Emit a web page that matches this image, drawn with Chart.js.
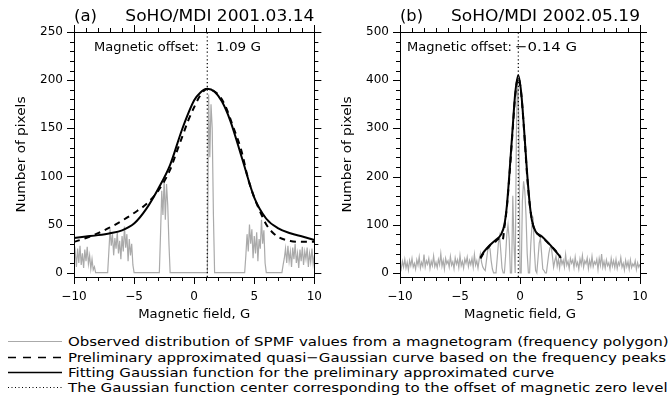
<!DOCTYPE html>
<html>
<head>
<meta charset="utf-8">
<script src="https://cdn.jsdelivr.net/npm/chart.js@4.4.1/dist/chart.umd.min.js"></script>
<style>
  body { margin: 0; background: #fff; }
  #wrap { position: relative; width: 670px; height: 401px; overflow: hidden; font-family: "DejaVu Sans", sans-serif; color: #000; }
  canvas.panel { position: absolute; top: 0; }
  #cA { left: 0; }
  #cB { left: 335px; }
  .leg { position: absolute; left: 0; width: 670px; height: 15px; font-size: 13px; line-height: 15px; white-space: nowrap; }
  .leg svg { position: absolute; left: 8px; top: 0; }
  .leg span { position: absolute; left: 68px; top: 0; transform-origin: 0 50%; }
</style>
</head>
<body>
<div id="wrap">
  <canvas id="cA" class="panel" width="335" height="330"></canvas>
  <canvas id="cB" class="panel" width="335" height="330"></canvas>

  <div class="leg" style="top:334px">
    <svg width="56" height="15"><line x1="0" y1="7.5" x2="54" y2="7.5" stroke="#aaaaaa" stroke-width="1.2"/></svg>
    <span>Observed distribution of SPMF values from a magnetogram (frequency polygon)</span>
  </div>
  <div class="leg" style="top:350px">
    <svg width="56" height="15"><line x1="0" y1="7.5" x2="54" y2="7.5" stroke="#000" stroke-width="1.4" stroke-dasharray="8,7"/></svg>
    <span>Preliminary approximated quasi−Gaussian curve based on the frequency peaks</span>
  </div>
  <div class="leg" style="top:365px">
    <svg width="56" height="15"><line x1="0" y1="7.5" x2="54" y2="7.5" stroke="#000" stroke-width="1.4"/></svg>
    <span>Fitting Gaussian function for the preliminary approximated curve</span>
  </div>
  <div class="leg" style="top:380px">
    <svg width="56" height="15"><line x1="0" y1="7.5" x2="54" y2="7.5" stroke="#000" stroke-width="1.2" stroke-dasharray="1,2.5"/></svg>
    <span id="legLong">The Gaussian function center corresponding to the offset of magnetic zero level</span>
  </div>
</div>

<script>
const xTicks = [-10, -5, 0, 5, 10];

// panel (a) - SoHO/MDI 2001.03.14
const offsetA = 1.09;
const yTicksA = [0, 50, 100, 150, 200, 250];
const obsAStart = [-10.0, -7.2, -2.9, 1.1, 4.2, 7.3];   // start of each run, step 0.1 G
const obsAVals = [
  [12, 22, 6, 25, 10, 28, 8, 20, 5, 24, 12, 27, 9, 18, 4, 14, 3, 6, 0],
  [0, 22, 45, 28, 40, 18, 36, 25, 42, 20, 33, 14, 38, 22, 48, 26, 40, 12, 35, 18, 30, 8, 0],
  [0, 40, 85, 60, 97, 55, 92, 70, 30, 0],
  [0, 185, 120, 175, 150, 60, 0],
  [0, 18, 40, 22, 50, 30, 45, 15, 38, 20, 42, 12, 35, 25, 55, 30, 44, 10, 0],
  [0, 8, 15, 25, 10, 28, 12, 22, 6, 26, 14, 30, 10, 20, 5, 24, 12, 27, 8, 22, 14, 26, 6, 20, 11, 25, 9, 18]
];
const dashAx = [-10, -9, -8, -7, -6, -5, -4, -3, -2, -1.5, -1, -0.5, 0, 0.5, 1.1, 1.6, 2.2, 2.7, 3.2, 3.9, 4.5, 5, 5.5, 6, 6.5, 7, 8, 9, 10];
const dashAy = [32, 36, 41, 47, 54, 62, 71, 85, 107, 124, 141, 158, 172, 184, 191, 189, 182, 170, 153, 128, 97, 78, 63, 50, 42, 37, 33, 32, 32];
const fitAx = [-10, -9, -8, -7, -6, -5, -4, -3, -2, -1, 0, 0.5, 1.09, 1.7, 2.3, 3, 4, 5, 6, 7, 8, 9, 10];
const fitAy = [36, 37.5, 39, 41, 44, 51, 66, 87, 112, 149, 179, 187, 191, 188, 178, 158, 118, 78, 56, 46, 41, 37.5, 34];

// panel (b) - SoHO/MDI 2002.05.19
const offsetB = -0.14;
const yTicksB = [0, 100, 200, 300, 400, 500];
const obsBStart = -10.0;   // step 0.1 G
const obsBVals = [
  18, 8, 24, 12, 28, 10, 22, 6, 26, 15,
  30, 12, 20, 8, 27, 16, 33, 10, 22, 14,
  38, 12, 25, 18, 30, 9, 24, 15, 35, 13,
  22, 11, 28, 17, 40, 14, 26, 8, 30, 19,
  25, 12, 34, 16, 23, 9, 31, 18, 27, 11,
  36, 15, 24, 10, 29, 20, 33, 13, 26, 17,
  30, 12, 38, 16, 25, 10, 28, 40, 22, 12,
  8, 5, 25, 45, 55, 50, 25, 8, 0, 0,
  0, 30, 62, 76, 45, 10, 0, 0, 35, 80,
  100, 70, 0, 0, 160, 60, 0, 290, 410, 320,
  0, 0, 150, 190, 170, 120, 40, 0, 0, 60,
  100, 110, 45, 5, 0, 30, 62, 72, 40, 8,
  5, 0, 0, 20, 40, 52, 55, 35, 12, 25,
  35, 14, 28, 10, 32, 18, 26, 12, 38, 16,
  24, 9, 30, 20, 27, 11, 33, 15, 22, 8,
  29, 17, 36, 12, 25, 19, 31, 9, 26, 14,
  34, 13, 23, 18, 28, 7, 30, 16, 39, 12,
  24, 10, 27, 15, 21, 8, 30, 14, 25, 11,
  28, 9, 22, 16, 32, 12, 20, 6, 26, 13,
  23, 8, 27, 11, 19, 14, 25, 7, 21, 12,
  18
];
const dashBx = [-3.3, -3, -2.5, -2, -1.7, -1.45, -1.3, -1.1, -0.9, -0.6, -0.4, -0.14, 0.1, 0.3, 0.6, 0.8, 1.0, 1.2, 1.5, 2.0, 2.5, 3.0, 3.4];
const dashBy = [30, 42, 57, 66, 72, 68, 95, 135, 195, 300, 368, 405, 372, 310, 200, 145, 110, 90, 80, 70, 58, 45, 31];
const fitBx = [-3.3, -3, -2.5, -2, -1.6, -1.3, -1.1, -0.9, -0.6, -0.4, -0.14, 0.1, 0.3, 0.6, 0.83, 1.0, 1.3, 1.8, 2.3, 2.8, 3.35];
const fitBy = [32, 44, 58, 69, 79, 100, 138, 200, 305, 372, 410, 374, 312, 205, 138, 108, 86, 76, 64, 50, 33];

const FONT = '"DejaVu Sans", sans-serif';

function zip(xs, ys) {
  return xs.map((x, i) => ({ x: x, y: ys[i] }));
}

function runs(starts, vals) {
  const pts = [];
  starts.forEach((s, k) => {
    vals[k].forEach((v, i) => pts.push({ x: +(s + i * 0.1).toFixed(2), y: v }));
  });
  return pts;
}

function fmt(v) {
  return v < 0 ? '\u2212' + Math.abs(v) : String(v);
}

// text squeezed/stretched to a given width (the original font is wider)
function fitText(ctx, text, x, y, width, align) {
  const w = ctx.measureText(text).width;
  ctx.save();
  ctx.translate(x, y);
  ctx.scale(width / w, 1);
  ctx.textAlign = align;
  ctx.fillText(text, 0, 0);
  ctx.restore();
}

function frame(p) {
  return {
    id: 'frame',
    afterDraw(chart) {
      const ctx = chart.ctx;
      const a = chart.chartArea;
      const xs = chart.scales.x, ys = chart.scales.y;
      ctx.save();
      ctx.strokeStyle = '#000';
      ctx.lineWidth = 1;
      ctx.strokeRect(Math.round(a.left) + 0.5, Math.round(a.top) + 0.5,
        Math.round(a.right - a.left), Math.round(a.bottom - a.top));
      ctx.beginPath();
      for (let v = -10; v <= 10; v++) {
        const px = Math.round(xs.getPixelForValue(v)) + 0.5;
        const len = v % 5 === 0 ? 7 : 4;
        ctx.moveTo(px, a.bottom); ctx.lineTo(px, a.bottom + len);
        ctx.moveTo(px, a.top); ctx.lineTo(px, a.top - len);
      }
      for (let v = 0; v <= p.yMax; v += p.yMinor) {
        const py = Math.round(ys.getPixelForValue(v)) + 0.5;
        const len = v % p.yMajor === 0 ? 7 : 4;
        ctx.moveTo(a.left, py); ctx.lineTo(a.left - len, py);
        ctx.moveTo(a.right, py); ctx.lineTo(a.right + len, py);
      }
      ctx.stroke();

      ctx.fillStyle = '#000';
      ctx.textBaseline = 'middle';
      ctx.font = '16px ' + FONT;
      fitText(ctx, p.tag, a.left, 17, 23, 'left');
      fitText(ctx, p.title, a.right, 17, 189, 'right');

      ctx.font = '13px ' + FONT;
      fitText(ctx, 'Magnetic offset:', a.left + p.labelDx, 48, 105, 'left');
      fitText(ctx, p.offsetText, a.left + p.valueDx, 48, p.valueW, 'left');

      fitText(ctx, 'Magnetic field, G', (a.left + a.right) / 2 - 56, 315, 112, 'left');

      ctx.save();
      ctx.translate(a.left - 52, (a.top + a.bottom) / 2);
      ctx.rotate(-Math.PI / 2);
      fitText(ctx, 'Number of pixels', -58, 0, 116, 'left');
      ctx.restore();
      ctx.restore();
    }
  };
}

function makePanel(id, p) {
  return new Chart(document.getElementById(id), {
    type: 'line',
    data: {
      datasets: [
        { data: [{ x: p.offset, y: p.yMin }, { x: p.offset, y: p.yMax }], borderColor: '#000',
          borderWidth: 1.2, borderDash: [1.2, 2.6], pointRadius: 0, order: 0 },
        { data: zip(p.fitX, p.fitY), borderColor: '#000', borderWidth: 2, pointRadius: 0,
          cubicInterpolationMode: 'monotone', order: 1 },
        { data: zip(p.dashX, p.dashY), borderColor: '#000', borderWidth: 2, borderDash: [6, 5],
          pointRadius: 0, cubicInterpolationMode: 'monotone', order: 2 },
        { data: p.obs, borderColor: '#aaaaaa', borderWidth: 1.2, pointRadius: 0, order: 3 }
      ]
    },
    options: {
      responsive: false,
      animation: false,
      events: [],
      layout: { padding: { top: 32, right: p.padRight, left: 0, bottom: 0 } },
      plugins: { legend: { display: false }, tooltip: { enabled: false } },
      scales: {
        x: {
          type: 'linear', min: -10, max: 10,
          grid: { display: false, drawTicks: false },
          border: { display: false },
          ticks: { padding: 13, color: '#000', font: { family: FONT, size: 12 }, callback: fmt },
          afterBuildTicks: s => { s.ticks = xTicks.map(v => ({ value: v })); },
          afterFit: s => { s.height = 53; }
        },
        y: {
          type: 'linear', min: p.yMin, max: p.yMax,
          grid: { display: false, drawTicks: false },
          border: { display: false },
          ticks: { padding: 11, color: '#000', font: { family: FONT, size: 12 } },
          afterBuildTicks: s => { s.ticks = p.yTicks.map(v => ({ value: v })); },
          afterFit: s => { s.width = p.yWidth; }
        }
      }
    },
    plugins: [frame(p)]
  });
}

makePanel('cA', {
  tag: '(a)', title: 'SoHO/MDI 2001.03.14',
  offset: offsetA, offsetText: '1.09 G', labelDx: 20, valueDx: 142, valueW: 45,
  obs: runs(obsAStart, obsAVals),
  fitX: fitAx, fitY: fitAy, dashX: dashAx, dashY: dashAy,
  yTicks: yTicksA, yMin: -4.5, yMax: 250, yMajor: 50, yMinor: 10,
  yWidth: 74, padRight: 20
});

makePanel('cB', {
  tag: '(b)', title: 'SoHO/MDI 2002.05.19',
  offset: offsetB, offsetText: '\u22120.14 G', labelDx: 7, valueDx: 115, valueW: 62,
  obs: obsBVals.map((v, i) => ({ x: +(obsBStart + i * 0.1).toFixed(2), y: v })),
  fitX: fitBx, fitY: fitBy, dashX: dashBx, dashY: dashBy,
  yTicks: yTicksB, yMin: -8.5, yMax: 500, yMajor: 100, yMinor: 20,
  yWidth: 65, padRight: 30
});

// legend text is stretched like the original lettering
const longSpan = document.getElementById('legLong');
const k = 599 / longSpan.offsetWidth;
document.querySelectorAll('.leg span').forEach(s => { s.style.transform = 'scaleX(' + k + ')'; });
</script>
</body>
</html>
